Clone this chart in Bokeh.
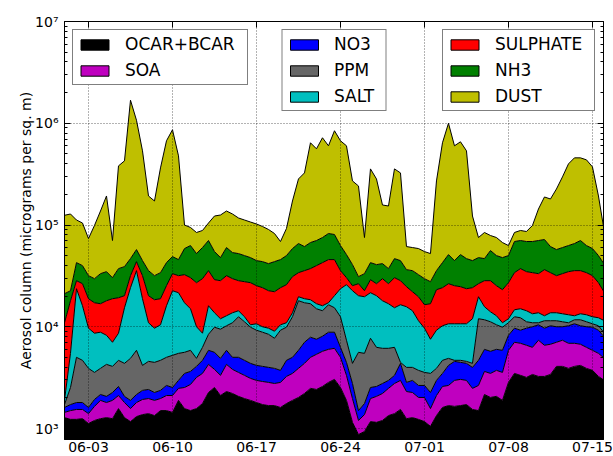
import pandas as pd
from bokeh.plotting import figure
from bokeh.models import (Range1d, Legend, LegendItem, FixedTicker, DatetimeTickFormatter,
                          LogAxis, DatetimeAxis, CustomJSTickFormatter)
from bokeh.embed import file_html
from bokeh.resources import INLINE

# sampling times (every 12 hours)
times = pd.date_range("2012-06-01", periods=91, freq="12h")

# stacked totals: top of each layer (micrograms per sq. m)
ocar_bcar_top = [1280, 1230, 1230, 1250, 1120, 1200, 1250, 1280, 1250, 1570, 1280, 1170, 1310, 1370, 1400, 1340,
                 1500, 1500, 1440, 1890, 1570, 1500, 1570, 1760, 2260, 2530, 2110, 2310, 2210, 2070, 1970, 1890,
                 1800, 1720, 1680, 1680, 1610, 1760, 1890, 2020, 2210, 2480, 2420, 2590, 2840, 3040, 2530, 1890,
                 1150, 873, 935, 1170, 1150, 1200, 1340, 1400, 1540, 1250, 1280, 1230, 1170, 1050, 1340, 1610,
                 1680, 1650, 1680, 1720, 1540, 1500, 2160, 2020, 2070, 1890, 2840, 3480, 3330, 3180, 3400, 3250,
                 3250, 3400, 4080, 4080, 3900, 4080, 4170, 3900, 3730, 3250, 2970]
soa_top = [1440, 1500, 1540, 1540, 1400, 1650, 1890, 1800, 1890, 2110, 1800, 1570, 1800, 1930, 1970, 1890,
           1970, 2110, 2110, 2480, 2530, 2710, 3180, 3480, 4270, 3810, 3330, 4270, 3810, 3560, 3330, 3110,
           2970, 2900, 2840, 2770, 2840, 3250, 3480, 3900, 4370, 5010, 5360, 5740, 6000, 6140, 5010, 3330,
           1970, 1200, 1370, 1970, 2070, 2210, 2480, 2770, 2970, 2310, 2260, 2020, 2020, 1570, 2110, 2590,
           2650, 2970, 3040, 2970, 2480, 2650, 3640, 3480, 3730, 3560, 5870, 7040, 6880, 6580, 6280, 7370,
           6580, 6730, 7040, 7370, 6880, 6880, 6730, 6280, 5870, 5480, 4890]
no3_top = [1610, 1720, 1800, 1800, 1610, 1930, 2160, 2070, 2260, 2590, 2070, 1890, 2160, 2370, 2420, 2260,
           2370, 2650, 2530, 2970, 3480, 3640, 4080, 4680, 5870, 5610, 4890, 5870, 5010, 5010, 4680, 4370,
           4170, 4080, 3990, 3900, 3730, 4680, 5010, 5870, 7040, 7890, 7540, 8070, 8840, 8840, 6280, 4470,
           2770, 1500, 1760, 2530, 2590, 2770, 2970, 3330, 4370, 2840, 2970, 2650, 2650, 2260, 2970, 3480,
           4170, 4570, 4470, 4370, 3990, 4680, 6000, 5740, 6000, 5870, 8250, 9680, 9250, 9680, 10000, 10460,
           9680, 10230, 10000, 10000, 10230, 10700, 10230, 10000, 9900, 9250, 7890]
ppm_top = [1720, 2530, 5010, 4680, 3900, 3560, 3900, 4270, 4080, 4680, 4370, 4890, 5870, 4170, 4570, 4470,
           4680, 5010, 5240, 5480, 5610, 5870, 4890, 6280, 8440, 9900, 9460, 10230, 10950, 12540, 11200, 9900,
           9250, 8840, 8440, 7710, 9250, 9900, 12540, 18020, 17220, 16840, 15030, 14370, 16460, 15380, 12540, 7370,
           4370, 5610, 5480, 7710, 6280, 6140, 6140, 6280, 4470, 3990, 3990, 3730, 3560, 3480, 3900, 4680,
           4890, 4680, 4680, 4570, 4370, 11990, 11720, 11200, 10460, 9900, 10950, 12540, 12260, 11200, 10950, 10950,
           11460, 11460, 11460, 11200, 10950, 11720, 11720, 11200, 10700, 10230, 8640]
salt_top = [1890, 5480, 23660, 16090, 9680, 8640, 8840, 8250, 7040, 8640, 15380, 24200, 35600, 18860, 10950, 9680,
            10460, 16090, 22610, 21610, 17220, 15030, 10000, 8640, 16090, 13730, 11990, 12830, 13730, 14370, 12540, 10460,
            10700, 10000, 9680, 9040, 10460, 10950, 13730, 19730, 18860, 18440, 16840, 16090, 17220, 20190, 23660, 25910,
            22610, 20190, 19730, 21610, 20190, 18020, 16840, 15380, 16460, 15730, 14370, 11460, 9680, 7540, 9250, 10230,
            10700, 10700, 10700, 10700, 11990, 19730, 15730, 14040, 12830, 10950, 11990, 14700, 15030, 14370, 13420, 13730,
            12830, 13730, 13730, 13420, 13120, 12830, 13420, 13120, 12540, 12260, 11460]
sulphate_top = [10950, 18020, 28370, 26500, 18860, 17220, 16840, 18020, 18860, 19290, 20190, 31780, 43680, 31780, 20190, 18440,
                18860, 25330, 33260, 31780, 32510, 30370, 27110, 29690, 35600, 29020, 28370, 31780, 29690, 28370, 27730, 27110,
                25330, 24200, 22610, 22100, 24200, 25910, 31070, 34020, 35600, 37260, 39880, 42700, 45710, 45710, 35600, 30370,
                25330, 26500, 22610, 29020, 26500, 29690, 26500, 30370, 28370, 24760, 22100, 19730, 16460, 16840, 23130, 24200,
                26500, 25330, 24760, 23660, 24200, 26500, 28370, 28370, 25330, 23130, 27110, 34020, 37260, 34800, 34020, 33260,
                36420, 34020, 31780, 33260, 34800, 35600, 35600, 34020, 31780, 27110, 21610]
nh3_top = [21120, 22610, 42700, 39880, 31780, 29690, 33260, 34800, 30370, 37260, 38990, 46760, 57370, 44680, 35600, 31780,
           34020, 42700, 48930, 45710, 58690, 62830, 52380, 60040, 70390, 54820, 47830, 60040, 53590, 52380, 50060, 47830,
           44680, 43680, 41740, 43680, 45710, 50060, 58690, 65750, 61420, 67260, 70390, 75350, 82520, 80670, 62830, 51210,
           40800, 31070, 33260, 42700, 40800, 41740, 37260, 46760, 44680, 36420, 35600, 32510, 29690, 27730, 35600, 42700,
           51210, 44680, 51210, 46760, 44680, 47830, 46760, 56080, 50060, 47830, 50060, 68810, 70390, 68810, 68810, 70390,
           72000, 61420, 57370, 60040, 62830, 65750, 70390, 62830, 58690, 50060, 40800]
dust_top = [124600, 128300, 112000, 104600, 73660, 98980, 137300, 192900, 70390, 381100, 427000, 1684000, 1070000, 535900,
            192900, 172200, 364200, 672600, 863600, 478300, 100000, 94580, 84420, 88350, 104600, 122600, 125400, 137300,
            128300, 117200, 112000, 107000, 102300, 96760, 90380, 82520, 68810, 92460, 172200, 283700, 325100, 642700,
            560800, 720000, 600400, 844200, 672600, 600400, 271100, 242000, 75350, 356000, 283700, 157300, 153800, 356000,
            325100, 61420, 60040, 58690, 54820, 52380, 271100, 642700, 1000000, 600400, 657500, 535900, 122600, 75350,
            84420, 78860, 75350, 67260, 62830, 84420, 88350, 86360, 98980, 143700, 188600, 180200, 226100, 296900,
            398800, 457100, 457100, 436800, 372600, 192900, 84420]

series_names = ["OCAR+BCAR", "SOA", "NO3", "PPM", "SALT", "SULPHATE", "NH3", "DUST"]
series_tops = [ocar_bcar_top, soa_top, no3_top, ppm_top, salt_top, sulphate_top, nh3_top, dust_top]
series_colors = ["#000000", "#bf00bf", "#0000ff", "#666666", "#00bfbf", "#ff0000", "#008000", "#bfbf00"]
legend_groups = [["OCAR+BCAR", "SOA"], ["NO3", "PPM", "SALT"], ["SULPHATE", "NH3", "DUST"]]

x_tick_labels = ["06-03", "06-10", "06-17", "06-24", "07-01", "07-08", "07-15"]
y_decades = [3, 4, 5, 6, 7]

FONT = "DejaVu Sans"
ms = lambda ts: ts.value / 1e6
nan = float("nan")

x_start = pd.Timestamp("2012-06-01")
x_end = x_start + pd.Timedelta(hours=44.92 * 24)

p = figure(x_axis_type="datetime", y_axis_type="log",
           x_range=Range1d(ms(x_start), ms(x_end)), y_range=Range1d(780, 1e7),
           width=613, height=456,
           min_border_left=64, min_border_top=21, min_border_bottom=17, min_border_right=10,
           output_backend="svg", toolbar_location=None)
p.background_fill_color = "white"
p.border_fill_color = "white"
p.outline_line_color = "black"
p.outline_line_width = 1

# stacked areas
bottom = [1.0] * len(times)
for name, top, color in zip(series_names, series_tops, series_colors):
    a = p.varea(x=times, y1=bottom, y2=top, fill_color=color)
    a.level = "image"
    bottom = top
for top in series_tops:
    p.line(x=times, y=top, line_color="black", line_width=1)

# ticks
x_ticks = [ms(pd.Timestamp("2012-" + lab)) for lab in x_tick_labels]
y_major = [10.0 ** d for d in y_decades]
y_minor = [m * 10.0 ** d for d in range(2, 7) for m in range(2, 10)]
xticker = FixedTicker(ticks=x_ticks)
yticker = FixedTicker(ticks=y_major, minor_ticks=y_minor)

fmt_x = DatetimeTickFormatter(days="%m-%d", months="%m-%d", hours="%m-%d", years="%m-%d")
sup_js = """
const sup = {'0':'\u2070','1':'\u00b9','2':'\u00b2','3':'\u00b3','4':'\u2074','5':'\u2075','6':'\u2076','7':'\u2077','8':'\u2078','9':'\u2079','-':'\u207b'};
const e = Math.round(Math.log10(tick));
return '10' + String(e).split('').map(c => sup[c]).join('');
"""
fmt_y = CustomJSTickFormatter(code=sup_js)
blank = CustomJSTickFormatter(code="return ''")


def style_axis(ax):
    ax.major_tick_in = 6
    ax.major_tick_out = 0
    ax.minor_tick_in = 3
    ax.minor_tick_out = 0
    ax.axis_line_color = "black"
    ax.major_tick_line_color = "black"
    ax.minor_tick_line_color = "black"
    ax.major_label_text_font = FONT
    ax.major_label_text_font_size = "14px"
    ax.major_label_text_color = "black"


xa = p.xaxis[0]
xa.ticker = xticker
xa.formatter = fmt_x
style_axis(xa)
xa.major_label_standoff = 2

ya = p.yaxis[0]
ya.ticker = yticker
ya.formatter = fmt_y
style_axis(ya)
ya.major_label_standoff = 6
ya.axis_label = "Aerosol column (micrograms per sq. m)"
ya.axis_label_text_font = FONT
ya.axis_label_text_font_size = "14px"
ya.axis_label_text_font_style = "normal"
ya.axis_label_text_color = "black"
ya.axis_label_standoff = -2

ra = LogAxis(ticker=yticker, formatter=blank)
style_axis(ra)
ra.major_label_standoff = 0
ra.major_label_text_font_size = "0px"
p.add_layout(ra, "right")

ta = DatetimeAxis(ticker=xticker, formatter=blank)
style_axis(ta)
ta.major_label_standoff = 0
ta.major_label_text_font_size = "0px"
p.add_layout(ta, "above")

for g in (p.xgrid[0], p.ygrid[0]):
    g.grid_line_color = "black"
    g.grid_line_alpha = 0.6
    g.grid_line_dash = "1 2"
    g.grid_line_width = 1
    g.level = "underlay"
p.ygrid[0].ticker = yticker
p.xgrid[0].ticker = xticker

# legends (three boxes)
patch = {}
for name, color in zip(series_names, series_colors):
    patch[name] = p.quad(left=[nan], right=[nan], top=[nan], bottom=[nan], fill_color=color,
                         line_color="black", line_width=1)

for group, loc, lw in zip(legend_groups, ["top_left", "top_center", "top_right"], [118, 47, 95]):
    lg = Legend(items=[LegendItem(label=n, renderers=[patch[n]]) for n in group], location=loc)
    lg.label_text_font = FONT
    lg.label_text_font_size = "17px"
    lg.label_text_color = "black"
    lg.glyph_width = 35
    lg.glyph_height = 13
    lg.label_standoff = 13
    lg.label_width = lw
    lg.spacing = 6
    lg.padding = 4
    lg.margin = 8
    lg.border_line_color = "black"
    lg.border_line_width = 1
    lg.background_fill_color = "white"
    lg.background_fill_alpha = 1
    p.add_layout(lg)

open("out.html", "w").write(file_html(p, INLINE))
